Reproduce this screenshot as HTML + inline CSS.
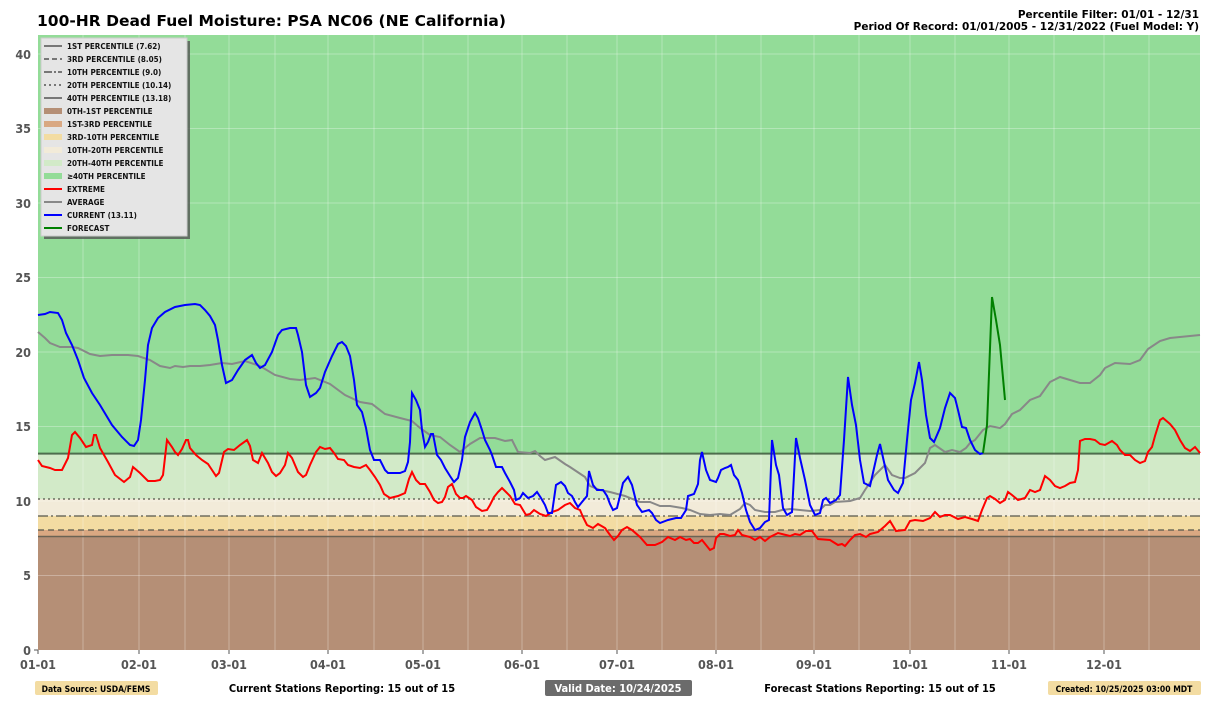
<!DOCTYPE html>
<html><head><meta charset="utf-8"><style>
body{margin:0;background:#fff;width:1209px;height:703px;overflow:hidden;font-family:"Liberation Sans",sans-serif}
</style></head><body>
<svg width="1209" height="703" viewBox="0 0 1209 703" xmlns="http://www.w3.org/2000/svg" font-family="DejaVu Sans, sans-serif">
<text x="37" y="26" font-size="15.5" font-weight="bold">100-HR Dead Fuel Moisture: PSA NC06 (NE California)</text>
<text x="1199" y="18" font-size="10.5" font-weight="bold" text-anchor="end">Percentile Filter: 01/01 - 12/31</text>
<text x="1199" y="30" font-size="10.5" font-weight="bold" text-anchor="end">Period Of Record: 01/01/2005 - 12/31/2022 (Fuel Model: Y)</text>
<rect x="38" y="35" width="1162" height="419" fill="#93dc98"/>
<rect x="38" y="453.6" width="1162" height="45.4" fill="#d2eac8"/>
<rect x="38" y="499" width="1162" height="17" fill="#f2ebd9"/>
<rect x="38" y="516" width="1162" height="14" fill="#f3dca2"/>
<rect x="38" y="530" width="1162" height="6.5" fill="#d9a882"/>
<rect x="38" y="536.5" width="1162" height="113.5" fill="#b58f76"/>
<g stroke="#ffffff" stroke-opacity="0.3" stroke-width="1">
<line x1="38" x2="1200" y1="575.5" y2="575.5"/><line x1="38" x2="1200" y1="501" y2="501"/><line x1="38" x2="1200" y1="426.5" y2="426.5"/><line x1="38" x2="1200" y1="352" y2="352"/><line x1="38" x2="1200" y1="277.5" y2="277.5"/><line x1="38" x2="1200" y1="203" y2="203"/><line x1="38" x2="1200" y1="128.5" y2="128.5"/><line x1="38" x2="1200" y1="54" y2="54"/>
<line x1="83" x2="83" y1="35" y2="650"/><line x1="139" x2="139" y1="35" y2="650"/><line x1="185" x2="185" y1="35" y2="650"/><line x1="229" x2="229" y1="35" y2="650"/><line x1="275" x2="275" y1="35" y2="650"/><line x1="328" x2="328" y1="35" y2="650"/><line x1="374" x2="374" y1="35" y2="650"/><line x1="423" x2="423" y1="35" y2="650"/><line x1="468" x2="468" y1="35" y2="650"/><line x1="522" x2="522" y1="35" y2="650"/><line x1="567" x2="567" y1="35" y2="650"/><line x1="617" x2="617" y1="35" y2="650"/><line x1="662" x2="662" y1="35" y2="650"/><line x1="716" x2="716" y1="35" y2="650"/><line x1="761" x2="761" y1="35" y2="650"/><line x1="814" x2="814" y1="35" y2="650"/><line x1="859" x2="859" y1="35" y2="650"/><line x1="910" x2="910" y1="35" y2="650"/><line x1="955" x2="955" y1="35" y2="650"/><line x1="1009" x2="1009" y1="35" y2="650"/><line x1="1054" x2="1054" y1="35" y2="650"/><line x1="1104" x2="1104" y1="35" y2="650"/><line x1="1149" x2="1149" y1="35" y2="650"/>
</g>
<g stroke="#5a5a4e" stroke-width="1.6" fill="none" opacity="0.85">
<line x1="38" x2="1200" y1="536.5" y2="536.5"/>
<line x1="38" x2="1200" y1="530" y2="530" stroke-dasharray="6,4"/>
<line x1="38" x2="1200" y1="516" y2="516" stroke-dasharray="10,3,2,3"/>
<line x1="38" x2="1200" y1="499" y2="499" stroke-dasharray="2,3"/>
<line x1="38" x2="1200" y1="453.6" y2="453.6" stroke="#3d5a3d" stroke-width="2"/>
</g>
<polyline fill="none" stroke="#888" stroke-width="2" points="38,332 45,338 50,343 60,347 72,347 78,348 90,354 100,356 112,355 128,355 138,356 150,360 160,366 170,368 175,366 183,367 190,366 200,366 210,365 222,363 232,364 245,361 260,366 275,375 290,379 300,380 315,378 330,384 345,395 360,402 372,404 385,414 400,418 412,421 420,428 430,435 440,437 450,445 460,452 470,444 480,438 495,438 505,441 512,440 518,452 530,453 535,451 540,456 545,460 555,457 565,464 570,467 585,477 590,486 600,490 610,492 625,496 640,502 650,502 660,506 670,506 682,508 690,510 700,514 710,515 720,514 730,515 740,509 745,503 750,505 755,510 765,512 775,512 782,510 790,509 800,510 810,511 820,510 825,505 830,505 835,502 850,501 860,498 865,490 875,475 885,465 892,475 900,478 905,478 915,473 925,463 930,448 935,445 945,452 952,450 960,452 966,448 970,443 975,440 983,430 990,426 1000,428 1005,424 1012,414 1020,410 1030,400 1040,396 1050,382 1060,377 1070,380 1080,383 1090,383 1100,375 1105,368 1115,363 1130,364 1140,360 1148,349 1160,341 1170,338 1180,337 1190,336 1200,335"/>
<polyline fill="none" stroke="#ff0000" stroke-width="2" points="38,460 42,466 50,468 55,470 62,470 68,458 72,435 75,432 80,438 86,447 92,445 94,435 96,435 100,448 108,462 115,475 124,482 130,477 133,467 140,473 148,481 155,481 160,480 163,475 167,440 172,447 175,452 178,455 182,449 186,440 188,440 190,448 196,455 202,460 208,464 212,470 216,476 219,473 224,452 228,449 234,450 240,445 247,440 250,446 253,460 258,463 262,453 268,463 272,472 276,476 280,473 285,465 288,453 292,458 298,472 303,477 306,475 310,465 316,452 320,447 325,449 330,448 334,453 338,459 344,460 348,465 354,467 360,468 366,465 370,470 375,477 380,485 384,494 390,498 398,496 405,493 409,479 412,472 416,480 420,484 425,484 430,492 434,500 438,503 442,502 445,497 448,487 452,484 456,494 460,498 463,498 466,496 472,500 476,507 482,511 487,510 490,505 494,497 498,492 502,488 506,492 510,496 515,504 520,505 526,515 530,514 534,510 540,514 546,516 552,512 558,510 565,505 570,503 575,508 580,510 583,517 587,525 593,528 598,524 605,528 610,535 614,540 618,536 622,530 627,527 632,530 640,537 647,545 655,545 662,542 668,537 675,540 680,537 686,540 690,539 694,543 698,543 702,540 706,545 710,550 714,548 716,538 720,534 724,534 730,536 735,535 738,530 742,535 750,537 755,540 760,537 765,541 770,537 778,533 790,536 795,534 800,535 806,531 812,531 818,539 830,540 838,545 842,544 845,546 850,540 855,535 860,534 866,537 870,534 878,532 885,526 890,521 896,531 905,530 910,521 915,520 923,521 930,518 935,512 940,517 945,515 950,515 958,519 965,517 972,519 978,521 982,510 987,498 990,496 995,499 1000,503 1005,500 1008,492 1012,495 1018,500 1025,498 1030,490 1035,492 1040,490 1045,476 1050,480 1055,486 1060,488 1065,486 1070,483 1075,482 1078,470 1080,441 1085,439 1090,439 1095,440 1100,444 1105,445 1112,441 1117,445 1120,450 1125,455 1130,455 1135,460 1140,463 1145,461 1148,452 1152,447 1155,436 1160,420 1163,418 1170,424 1175,430 1180,440 1185,448 1190,451 1195,447 1200,453"/>
<polyline fill="none" stroke="#0000ff" stroke-width="2" points="38,315 45,314 50,312 58,313 62,320 66,333 72,345 78,360 84,378 92,393 100,405 112,425 122,437 130,445 134,446 138,440 141,420 145,380 148,345 152,328 158,318 165,312 175,307 185,305 195,304 200,305 205,310 210,316 215,325 218,340 222,365 226,383 232,380 238,370 245,360 252,355 256,363 260,368 265,365 272,352 278,335 282,330 290,328 296,328 298,335 302,352 306,385 310,397 316,393 320,388 325,372 332,356 338,344 342,342 346,346 350,356 354,380 357,405 362,412 366,428 370,450 374,460 380,460 385,470 388,473 400,473 405,471 408,462 410,442 412,393 416,400 420,410 422,430 425,447 428,442 431,434 433,434 437,455 441,460 445,468 450,476 454,482 458,478 462,460 465,437 470,422 475,413 478,418 482,430 485,440 490,450 492,455 496,467 502,467 505,473 510,482 514,490 516,500 520,498 523,493 528,498 533,496 537,492 541,498 545,505 548,513 552,513 556,485 561,482 565,486 568,493 572,496 575,502 578,507 582,502 587,496 589,471 593,485 597,490 603,490 607,496 610,504 613,510 617,508 620,496 623,483 628,477 632,485 637,505 642,512 649,510 652,513 656,520 660,523 668,520 676,518 681,518 686,510 688,496 694,494 698,484 700,460 702,452 706,470 710,480 716,482 718,478 721,470 725,468 728,467 731,465 734,475 738,480 742,493 746,510 750,522 755,530 760,528 765,522 769,520 772,440 776,465 779,475 783,508 787,515 792,512 796,438 800,458 805,480 810,505 815,515 820,513 823,500 826,498 830,503 836,500 840,495 844,440 848,377 852,405 856,425 860,460 864,483 870,486 877,455 880,444 884,462 888,480 894,490 898,493 903,483 907,440 911,400 915,383 919,362 922,380 926,415 930,438 934,442 940,428 945,408 950,393 955,398 958,410 962,427 966,428 970,440 975,450 980,454 983,453"/>
<polyline fill="none" stroke="#008000" stroke-width="2" points="983,453 987,425 992,297 996,320 1000,345 1005,400"/>
<g stroke="#555" stroke-width="1">
<line x1="34" x2="38" y1="650" y2="650"/>
<line x1="38" x2="38" y1="650" y2="654"/><line x1="139" x2="139" y1="650" y2="654"/><line x1="229" x2="229" y1="650" y2="654"/><line x1="328" x2="328" y1="650" y2="654"/><line x1="423" x2="423" y1="650" y2="654"/><line x1="522" x2="522" y1="650" y2="654"/><line x1="617" x2="617" y1="650" y2="654"/><line x1="716" x2="716" y1="650" y2="654"/><line x1="814" x2="814" y1="650" y2="654"/><line x1="910" x2="910" y1="650" y2="654"/><line x1="1009" x2="1009" y1="650" y2="654"/><line x1="1104" x2="1104" y1="650" y2="654"/>
</g>
<g font-size="12.5" font-weight="bold" fill="#555" text-anchor="end" font-family="DejaVu Sans Condensed, DejaVu Sans, sans-serif">
<text x="31" y="655">0</text><text x="31" y="580">5</text><text x="31" y="506">10</text><text x="31" y="431">15</text><text x="31" y="357">20</text><text x="31" y="282">25</text><text x="31" y="208">30</text><text x="31" y="133">35</text><text x="31" y="59">40</text>
</g>
<g font-size="12.5" font-weight="bold" fill="#555" text-anchor="middle" font-family="DejaVu Sans Condensed, DejaVu Sans, sans-serif">
<text x="38" y="669">01-01</text><text x="139" y="669">02-01</text><text x="229" y="669">03-01</text><text x="328" y="669">04-01</text><text x="423" y="669">05-01</text><text x="522" y="669">06-01</text><text x="617" y="669">07-01</text><text x="716" y="669">08-01</text><text x="814" y="669">09-01</text><text x="910" y="669">10-01</text><text x="1009" y="669">11-01</text><text x="1104" y="669">12-01</text>
</g>
<rect x="44" y="41" width="146" height="198" fill="#555" opacity="0.8"/>
<rect x="41" y="38" width="146" height="198" fill="#e5e5e5" stroke="#ccc"/>
<g stroke-width="2" fill="none">
<line x1="44" x2="62" y1="46" y2="46" stroke="#777"/>
<line x1="44" x2="62" y1="59" y2="59" stroke="#777" stroke-dasharray="5,3"/>
<line x1="44" x2="62" y1="72" y2="72" stroke="#777" stroke-dasharray="8,2,2,2"/>
<line x1="44" x2="62" y1="85" y2="85" stroke="#777" stroke-dasharray="2,3"/>
<line x1="44" x2="62" y1="98" y2="98" stroke="#777"/>
<line x1="44" x2="62" y1="189" y2="189" stroke="#ff0000"/>
<line x1="44" x2="62" y1="202" y2="202" stroke="#888"/>
<line x1="44" x2="62" y1="215" y2="215" stroke="#0000ff"/>
<line x1="44" x2="62" y1="228" y2="228" stroke="#008000"/>
</g>
<rect x="44" y="108" width="18" height="6" fill="#b58f76"/>
<rect x="44" y="121" width="18" height="6" fill="#d9a882"/>
<rect x="44" y="134" width="18" height="6" fill="#f3dca2"/>
<rect x="44" y="147" width="18" height="6" fill="#f2ebd9"/>
<rect x="44" y="160" width="18" height="6" fill="#d2eac8"/>
<rect x="44" y="173" width="18" height="6" fill="#93dc98"/>
<g font-size="8" font-weight="bold" fill="#111" font-family="DejaVu Sans Condensed, DejaVu Sans, sans-serif">
<text x="67" y="49">1ST PERCENTILE (7.62)</text>
<text x="67" y="62">3RD PERCENTILE (8.05)</text>
<text x="67" y="75">10TH PERCENTILE (9.0)</text>
<text x="67" y="88">20TH PERCENTILE (10.14)</text>
<text x="67" y="101">40TH PERCENTILE (13.18)</text>
<text x="67" y="114">0TH-1ST PERCENTILE</text>
<text x="67" y="127">1ST-3RD PERCENTILE</text>
<text x="67" y="140">3RD-10TH PERCENTILE</text>
<text x="67" y="153">10TH-20TH PERCENTILE</text>
<text x="67" y="166">20TH-40TH PERCENTILE</text>
<text x="67" y="179">≥40TH PERCENTILE</text>
<text x="67" y="192">EXTREME</text>
<text x="67" y="205">AVERAGE</text>
<text x="67" y="218">CURRENT (13.11)</text>
<text x="67" y="231">FORECAST</text>
</g>
<g font-family="DejaVu Sans Condensed, DejaVu Sans, sans-serif" font-weight="bold">
<rect x="35" y="681" width="123" height="14" rx="2" fill="#f3dca2"/>
<text x="96" y="692" font-size="8.5" text-anchor="middle">Data Source: USDA/FEMS</text>
<text x="342" y="692" font-size="11" text-anchor="middle">Current Stations Reporting: 15 out of 15</text>
<rect x="545" y="680" width="147" height="16" rx="2" fill="#6b6b6b"/>
<text x="618" y="692" font-size="11" fill="#fff" text-anchor="middle">Valid Date: 10/24/2025</text>
<text x="880" y="692" font-size="11" text-anchor="middle">Forecast Stations Reporting: 15 out of 15</text>
<rect x="1048" y="681" width="153" height="14" rx="2" fill="#f3dca2"/>
<text x="1124" y="692" font-size="8.5" text-anchor="middle">Created: 10/25/2025 03:00 MDT</text>
</g>
</svg>
</body></html>
